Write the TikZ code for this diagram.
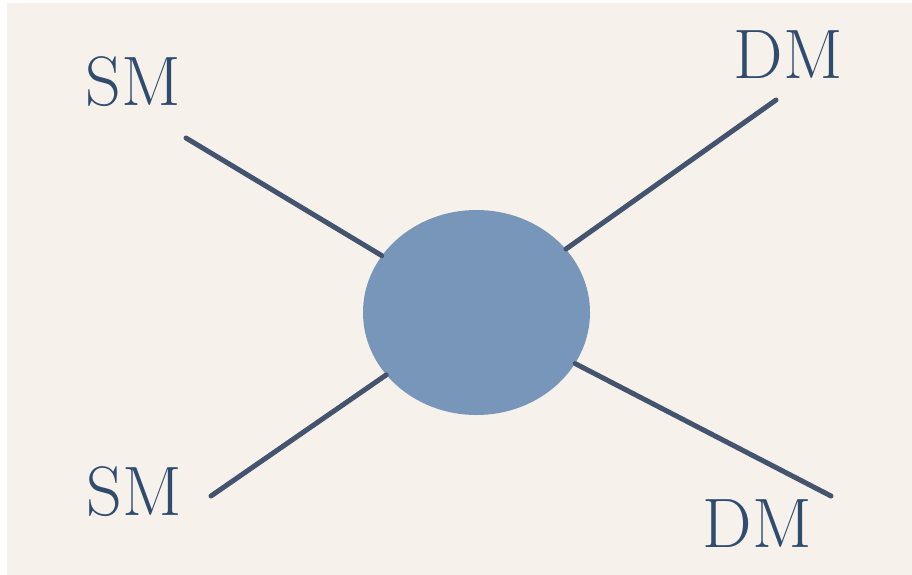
\documentclass[tikz,border=0pt]{standalone}
\usepackage{tikz}
\usetikzlibrary{shapes.geometric}
\definecolor{PaperBeige}{HTML}{F6F1EB}
\definecolor{LegSlate}{HTML}{44546E}
\definecolor{LabelNavy}{HTML}{2F4B6E}
\definecolor{BlobBlue}{HTML}{7896BA}
\tikzset{
  particle/.style={text=LabelNavy,inner sep=0pt,font=\fontsize{70}{74}\selectfont},
  leg/.style={draw=LegSlate,line width=5pt,line cap=round},
}

\begin{document}
\begin{tikzpicture}[x=1pt,y=-1pt]
    \useasboundingbox (0,0) rectangle (912,574);
    \fill[white] (0,0) rectangle (912,574);
    \fill[PaperBeige] (7,3) rectangle (913,575);
    % blob in the middle
    \node[ellipse,fill=BlobBlue,minimum width=227pt,minimum height=205pt,inner sep=0pt] (blob) at (476.5,312.5) {};
    % free ends of the legs
    \coordinate (smTopEnd) at (186,138);
    \coordinate (dmTopEnd) at (776,100);
    \coordinate (smBotEnd) at (211,496);
    \coordinate (dmBotEnd) at (831,496);
    \draw[leg] (smTopEnd) -- (blob);
    \draw[leg] (dmTopEnd) -- (blob);
    \draw[leg] (smBotEnd) -- (blob);
    \draw[leg] (dmBotEnd) -- (blob);
    % labels
    \node[particle] (smTop) at (133,82) {SM};
    \node[particle] (dmTop) at (788,55) {DM};
    \node[particle] (smBot) at (134,492) {SM};
    \node[particle] (dmBot) at (757,524) {DM};
\end{tikzpicture}
\end{document}
